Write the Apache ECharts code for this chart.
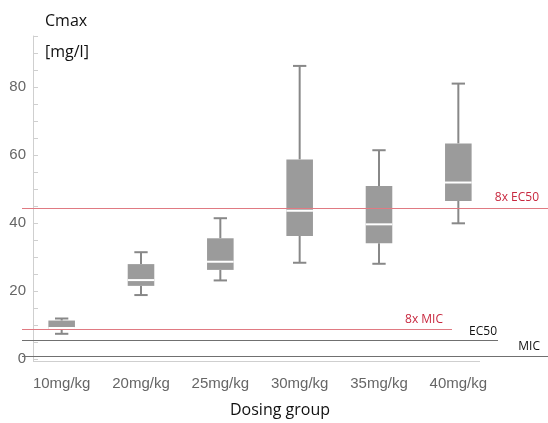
<!DOCTYPE html>
<html>
<head>
<meta charset="utf-8">
<script src="https://cdn.jsdelivr.net/npm/echarts@6/dist/echarts.min.js"></script>
<style>
html,body{margin:0;padding:0;background:#fff;}
#chart{width:548px;height:423px;}
</style>
</head>
<body>
<div id="chart"></div>
<script>
// ---- data ----
const categories = ['10mg/kg', '20mg/kg', '25mg/kg', '30mg/kg', '35mg/kg', '40mg/kg'];
const mins    = [7.4, 18.8, 23.1, 28.3, 28.0, 39.9];
const q1s     = [8.7, 21.5, 26.2, 36.2, 34.0, 46.5];
const medians = [9.1, 23.2, 28.6, 43.6, 39.6, 51.9];
const q3s     = [11.3, 27.9, 35.5, 58.7, 50.9, 63.4];
const maxs    = [11.9, 31.4, 41.4, 86.2, 61.4, 81.0];
const yLabelValues = [0, 20, 40, 60, 80];
const yTickValues = [0, 5, 10, 15, 20, 25, 30, 35, 40, 45, 50, 55, 60, 65, 70, 75, 80, 85, 90, 95];
const refNames  = ['8x EC50', '8x MIC', 'EC50', 'MIC'];
const refValues = [44.4, 8.8, 5.4, 0.7];
const axisBottomValue = -0.6;

const boxData = categories.map((c, i) => [i, mins[i], q1s[i], medians[i], q3s[i], maxs[i]]);

const chart = echarts.init(document.getElementById('chart'), null, {renderer: 'canvas'});

const red = '#c8283f';
const redLine = '#e07a82';
const darkLine = '#707070';
const refStyles = [
  {end: 548, color: redLine, text: red, dist: [9, 4]},
  {end: 452, color: redLine, text: red, dist: [9, 3]},
  {end: 498, color: darkLine, text: '#111', dist: [1, 3]},
  {end: 548, color: darkLine, text: '#111', dist: [8, 4]}
];

const series = [{
  type: 'custom',
  name: 'boxes',
  renderItem: renderBox,
  data: boxData,
  encode: {x: 0, y: [1, 2, 3, 4, 5]},
  clip: false,
  markLine: {
    silent: true,
    symbol: ['none', 'none'],
    animation: false,
    lineStyle: {color: '#cfcfcf', width: 1, type: 'solid'},
    label: {show: false},
    data: [[{x: 33, yAxis: axisBottomValue}, {x: 480, yAxis: axisBottomValue}]]
  }
}];

// one marker series per reference line so each keeps its own style
refValues.forEach((v, i) => {
  const s = refStyles[i];
  series.push({
    type: 'custom',
    name: refNames[i],
    renderItem: () => ({type: 'group', children: []}),
    data: [],
    clip: false,
    markLine: {
      silent: true,
      symbol: ['none', 'none'],
      animation: false,
      lineStyle: {color: s.color, width: 1, type: 'solid'},
      label: {show: true, formatter: refNames[i], position: 'insideEndTop', color: s.text,
              fontFamily: 'Open Sans', fontSize: 12, distance: s.dist},
      data: [[{x: 22, yAxis: v}, {x: s.end, yAxis: v}]]
    }
  });
});

function renderBox(params, api) {
  const x = api.value(0);
  const pMin = api.coord([x, api.value(1)]);
  const pQ1 = api.coord([x, api.value(2)]);
  const pMed = api.coord([x, api.value(3)]);
  const pQ3 = api.coord([x, api.value(4)]);
  const pMax = api.coord([x, api.value(5)]);
  const band = api.size([1, 0])[0];
  const bw = band * 0.335;
  const cw = band * 0.168;
  const cx = pMed[0];
  const wStyle = {stroke: '#888888', lineWidth: 2};
  return {
    type: 'group',
    children: [
      {type: 'line', shape: {x1: cx, y1: pMax[1], x2: cx, y2: pQ3[1]}, style: wStyle},
      {type: 'line', shape: {x1: cx, y1: pQ1[1], x2: cx, y2: pMin[1]}, style: wStyle},
      {type: 'line', shape: {x1: cx - cw / 2, y1: pMax[1], x2: cx + cw / 2, y2: pMax[1]}, style: wStyle},
      {type: 'line', shape: {x1: cx - cw / 2, y1: pMin[1], x2: cx + cw / 2, y2: pMin[1]}, style: wStyle},
      {type: 'rect', shape: {x: cx - bw / 2, y: pQ3[1], width: bw, height: pQ1[1] - pQ3[1]},
       style: {fill: '#9b9b9b', stroke: null}},
      {type: 'line', shape: {x1: cx - bw / 2, y1: pMed[1], x2: cx + bw / 2, y2: pMed[1]},
       style: {stroke: '#ffffff', lineWidth: 2}}
    ]
  };
}

chart.setOption({
  animation: false,
  backgroundColor: '#ffffff',
  grid: {left: 22, top: 36, width: 476, height: 325},
  xAxis: {
    type: 'category',
    data: categories,
    boundaryGap: true,
    axisLine: {show: false},
    axisTick: {show: false},
    axisLabel: {color: '#666666', fontSize: 15, fontFamily: 'Liberation Sans', margin: 15},
    splitLine: {show: false}
  },
  yAxis: {
    type: 'value',
    min: axisBottomValue,
    max: 95,
    offset: -11,
    axisLine: {show: true, lineStyle: {color: '#cfcfcf', width: 1}},
    axisTick: {show: true, inside: true, length: 5, lineStyle: {color: '#cfcfcf'}, customValues: yTickValues},
    axisLabel: {color: '#666666', fontSize: 15, fontFamily: 'Liberation Sans', margin: 7, customValues: yLabelValues},
    splitLine: {show: false}
  },
  graphic: [
    {type: 'text', x: 45, y: 21, style: {text: 'Cmax', fontFamily: 'Open Sans', fontSize: 16, fill: '#111', verticalAlign: 'middle', align: 'left'}},
    {type: 'text', x: 45, y: 52, style: {text: '[mg/l]', fontFamily: 'Open Sans', fontSize: 16, fill: '#111', verticalAlign: 'middle', align: 'left'}},
    {type: 'text', x: 280, y: 410, style: {text: 'Dosing group', fontFamily: 'Open Sans', fontSize: 16, fill: '#111', verticalAlign: 'middle', align: 'center'}}
  ],
  series: series
});
</script>
</body>
</html>
